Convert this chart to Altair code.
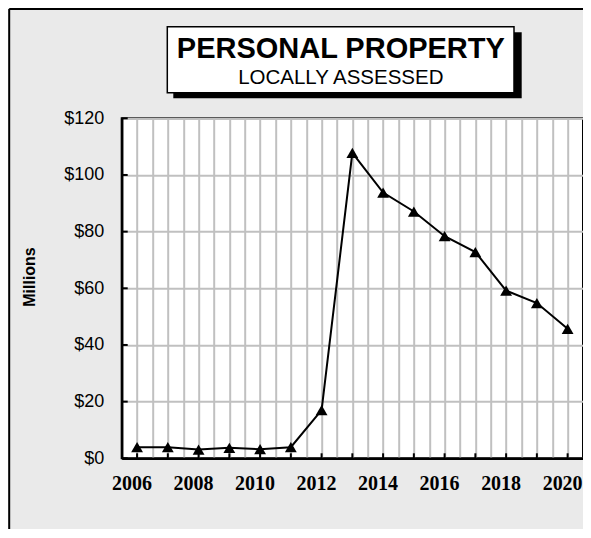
import altair as alt
import pandas as pd

# ---- data ----
years = [2006, 2007, 2008, 2009, 2010, 2011, 2012, 2013, 2014, 2015, 2016, 2017, 2018, 2019, 2020]
values = [3.9, 3.9, 3.1, 3.7, 3.2, 3.9, 17.0, 107.8, 93.8, 87.1, 78.4, 72.8, 59.2, 54.8, 45.7]
y_ticks = [0, 20, 40, 60, 80, 100, 120]
x_grid = [y + h for y in years for h in (0.0, 0.5)][:-1]  # half-year grid 2006..2020

title_main = "PERSONAL PROPERTY"
title_sub = "LOCALLY ASSESSED"
y_title = "Millions"

df = pd.DataFrame({"year": years, "value": values})
ydf = pd.DataFrame({"v": y_ticks})
xdf = pd.DataFrame({"yr": years})
one = pd.DataFrame({"a": [0]})

PAD_L, PAD_T = 113.7, 110.3
W, H = 575 - PAD_L, 340
xscale = alt.Scale(domain=[2005.5, 2020.5], nice=False, zero=False)
yscale = alt.Scale(domain=[0, 120], nice=False, zero=True)

x_axis = alt.Axis(
    values=x_grid, grid=True, gridColor="#c0c0c0", gridWidth=2, ticks=False,
    labelExpr="datum.value % 2 == 0 ? '' + datum.value : ''",
    labelFont="Liberation Serif", labelFontWeight="bold", labelFontSize=20,
    labelColor="black", labelPadding=31.5, labelBaseline="alphabetic",
    labelOffset=-5.5,
    labelOverlap=False, labelFlush=False, domainColor="black", domainWidth=2.5,
    title=None,
)
y_axis = alt.Axis(
    values=y_ticks, grid=True, gridColor="#c0c0c0", gridWidth=2, ticks=False,
    labelExpr="'$' + datum.value",
    labelFont="Liberation Sans", labelFontSize=18, labelColor="black",
    labelPadding=18, domainColor="black", domainWidth=2.5, title=None,
)

line = alt.Chart(df).mark_line(color="black", strokeWidth=2).encode(
    x=alt.X("year:Q", scale=xscale, axis=x_axis),
    y=alt.Y("value:Q", scale=yscale, axis=y_axis),
)
pts = alt.Chart(df).mark_point(shape="triangle-up", filled=True, color="black", size=140, opacity=1).encode(
    x=alt.X("year:Q", scale=xscale, axis=x_axis),
    y=alt.Y("value:Q", scale=yscale, axis=y_axis),
)
yt = alt.Chart(ydf).mark_rule(color="black", strokeWidth=2).encode(
    y=alt.Y("v:Q", scale=yscale, axis=y_axis), x=alt.value(0), x2=alt.value(6)
)
xt = alt.Chart(xdf).mark_rule(color="black", strokeWidth=2).encode(
    x=alt.X("yr:Q", scale=xscale, axis=x_axis), y=alt.value(H), y2=alt.value(H - 5)
)

# outer frame (left and top edges)
frame_l = alt.Chart(one).mark_rule(color="black", strokeWidth=2).encode(
    x=alt.value(-112.5), y=alt.value(-109.3), y2=alt.value(430)
)
frame_t = alt.Chart(one).mark_rule(color="black", strokeWidth=2).encode(
    x=alt.value(-112.5), x2=alt.value(480), y=alt.value(-109.3)
)

# title box with shadow
shadow = alt.Chart(one).mark_rect(color="black").encode(
    x=alt.value(51.6), x2=alt.value(400), y=alt.value(-86), y2=alt.value(-20)
)
box = alt.Chart(one).mark_rect(fill="white", stroke="black", strokeWidth=1.5).encode(
    x=alt.value(45.6), x2=alt.value(392.3), y=alt.value(-91.6), y2=alt.value(-25.6)
)
t1 = alt.Chart(one).mark_text(
    text=title_main, font="Liberation Sans", fontWeight="bold", fontSize=29,
    align="center", baseline="alphabetic", color="black"
).encode(x=alt.value(219.1), y=alt.value(-60))
t2 = alt.Chart(one).mark_text(
    text=title_sub, font="Liberation Sans", fontSize=20.5,
    align="center", baseline="alphabetic", color="black"
).encode(x=alt.value(219.1), y=alt.value(-34.3))
ytitle = alt.Chart(one).mark_text(
    text=y_title, font="Liberation Sans", fontWeight="bold", fontSize=16,
    align="center", baseline="middle", angle=270, color="black"
).encode(x=alt.value(-91.7), y=alt.value(158.7))

chart = alt.layer(
    line, yt, xt, pts, frame_l, frame_t, shadow, box, t1, t2, ytitle
).properties(
    width=W, height=H,
    autosize=alt.AutoSizeParams(type="none"),
    padding={"left": PAD_L, "top": PAD_T, "right": 0, "bottom": 71},
    background="#eaeaea",
).configure_view(
    fill="white", stroke="black", strokeWidth=2
)

chart.save("out.html", embed_options={"renderer": "svg", "actions": False})
